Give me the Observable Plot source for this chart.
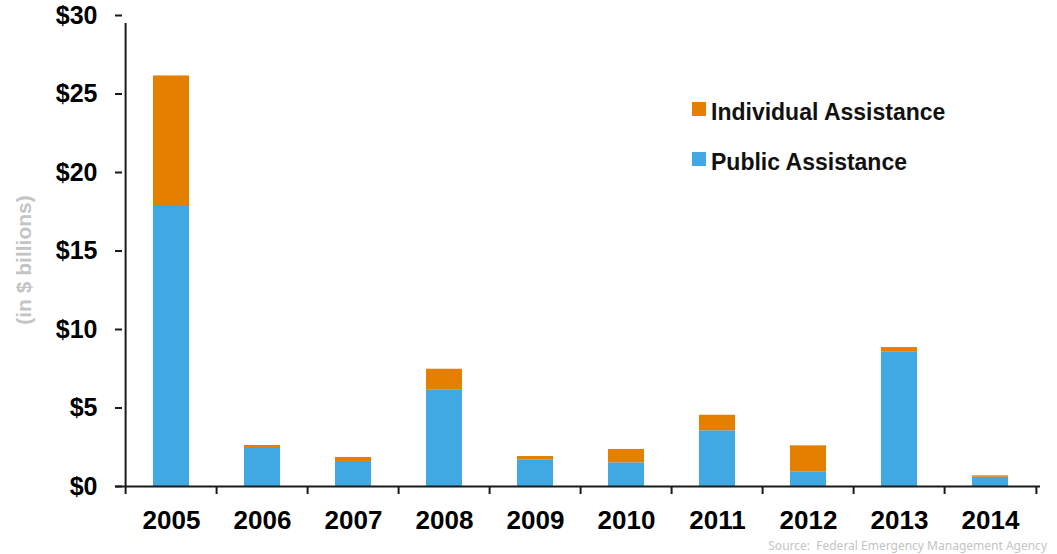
<!DOCTYPE html>
<html>
<head>
<meta charset="utf-8">
<script src="https://cdn.jsdelivr.net/npm/d3@7"></script>
<script src="https://cdn.jsdelivr.net/npm/@observablehq/plot@0.6"></script>
<style>
  html, body { margin: 0; padding: 0; background: #fff; }
  #wrap { position: relative; width: 1057px; height: 554px; overflow: hidden; }
  .leg { position: absolute; font-family: "Liberation Sans", Arial, sans-serif; font-weight: bold; font-size: 23px; color: #111; white-space: nowrap; }
  .sw { position: absolute; width: 14px; height: 14px; }
  #ylab { position: absolute; left: 24px; top: 260px; transform: translate(-50%, -50%) rotate(-90deg); font-family: "Liberation Sans", Arial, sans-serif; font-weight: bold; font-size: 21px; color: #c4c4c4; white-space: nowrap; }
  #src { position: absolute; right: 10px; top: 537px; font-family: "Noto Sans", "Open Sans", sans-serif; font-size: 12px; color: #c4c4c4; white-space: nowrap; }
</style>
</head>
<body>
<div id="wrap">
  <div id="chart"></div>
  <div class="sw" style="left:692px; top:102px; background:#E47F00"></div>
  <div class="leg" style="left:711px; top:99px;">Individual Assistance</div>
  <div class="sw" style="left:692px; top:152px; background:#40A8E2"></div>
  <div class="leg" style="left:711px; top:149px;">Public Assistance</div>
  <div id="ylab">(in $ billions)</div>
  <div id="src">Source:&nbsp; Federal Emergency Management Agency</div>
</div>
<script>
const years = ["2005","2006","2007","2008","2009","2010","2011","2012","2013","2014"];
const publicAssistance = [17.9, 2.42, 1.59, 6.13, 1.70, 1.51, 3.55, 0.91, 8.55, 0.59];
const individualAssistance = [8.25, 0.19, 0.26, 1.34, 0.21, 0.85, 0.99, 1.68, 0.30, 0.09];
const seriesNames = ["Public Assistance", "Individual Assistance"];
const seriesColors = ["#40A8E2", "#E47F00"];
const yTicks = [0, 5, 10, 15, 20, 25, 30];

const rows = [];
years.forEach((y, i) => rows.push({year: y, series: seriesNames[0], value: publicAssistance[i]}));
years.forEach((y, i) => rows.push({year: y, series: seriesNames[1], value: individualAssistance[i]}));

const W = 1057, H = 554, ML = 122, MR = 17, MT = 15, MB = 68;
const step = (W - ML - MR) / years.length;
const axisColor = "#1a1a1a";

const chart = Plot.plot({
  width: W,
  height: H,
  marginLeft: ML,
  marginRight: MR,
  marginTop: MT,
  marginBottom: MB,
  style: {fontFamily: "Liberation Sans, Arial, sans-serif", fontWeight: "bold", color: "#000", background: "#fff"},
  x: {domain: years, paddingInner: 0.6, paddingOuter: 0.3, label: null},
  y: {domain: [0, 30], label: null},
  color: {domain: seriesNames, range: seriesColors},
  marks: [
    Plot.barY(rows, {x: "year", y: "value", fill: "series"}),
    Plot.axisY({ticks: yTicks, tickFormat: d => "$" + d, tickSize: 7, tickPadding: 18, fontSize: 25, stroke: axisColor, strokeWidth: 2, label: null}),
    Plot.axisX({tickSize: 0, tickPadding: 24, fontSize: 26, label: null}),
    // y axis line
    Plot.ruleX([years[0]], {x: d => d, dx: -step / 2, y1: 0, y2: 30, insetBottom: -8, stroke: axisColor, strokeWidth: 2}),
    // category boundary ticks
    Plot.ruleX(years, {x: d => d, dx: -step / 2, y1: 0, y2: 0, insetBottom: -8, stroke: axisColor, strokeWidth: 2}),
    Plot.ruleX([years[years.length - 1]], {x: d => d, dx: step / 2, y1: 0, y2: 0, insetBottom: -8, stroke: axisColor, strokeWidth: 2}),
    Plot.ruleY([0], {insetLeft: -7, stroke: axisColor, strokeWidth: 2})
  ]
});
document.getElementById("chart").appendChild(chart);
</script>
</body>
</html>
